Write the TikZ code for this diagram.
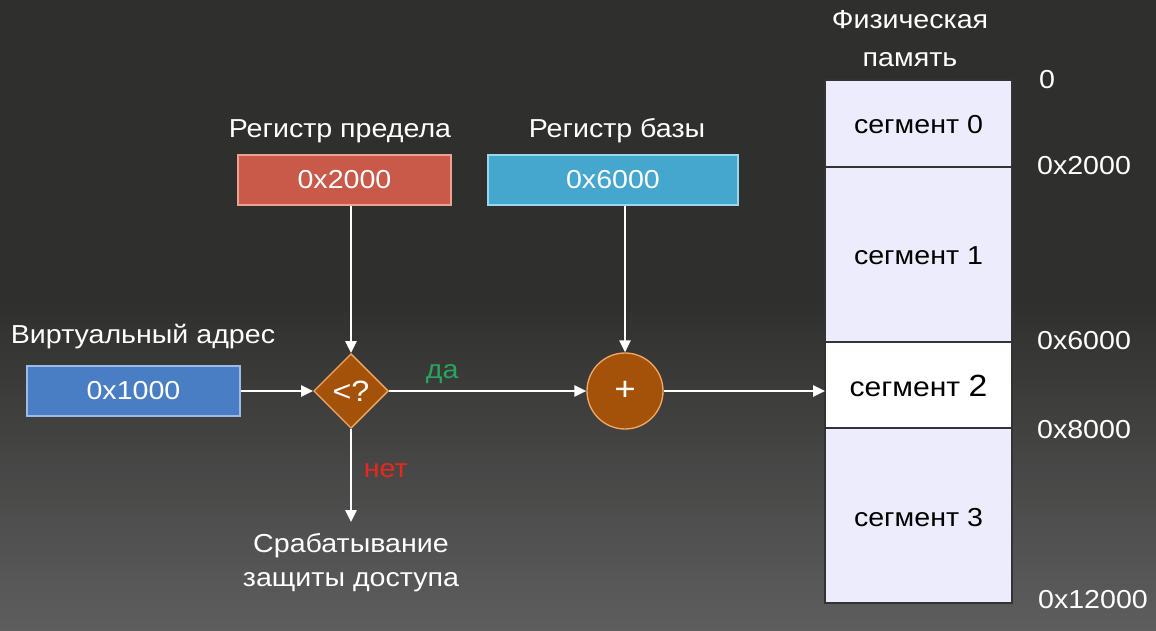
\documentclass[tikz,border=0pt]{standalone}
\usepackage{fontspec}
\setmainfont{Liberation Sans}[FakeStretch=1.1]
\usetikzlibrary{arrows.meta,shapes.geometric}
\definecolor{bgtop}{HTML}{2F2F2E}
\definecolor{bgbot}{HTML}{5E5E5E}
\definecolor{vblue}{HTML}{4A7EC4}
\definecolor{vblueb}{HTML}{9DBBE3}
\definecolor{lred}{HTML}{C95A4A}
\definecolor{lredb}{HTML}{EDA195}
\definecolor{bcyan}{HTML}{45A6CE}
\definecolor{bcyanb}{HTML}{9AD6EE}
\definecolor{opfill}{HTML}{A4520A}
\definecolor{opedge}{HTML}{F2A860}
\definecolor{memfill}{HTML}{ECECFC}
\definecolor{memedge}{HTML}{333333}
\definecolor{yesgreen}{HTML}{27A55E}
\definecolor{nored}{HTML}{E8281E}
\begin{document}
\begin{tikzpicture}[x=0.75pt,y=-0.75pt,
  wtxt/.style={text=white,font=\fontsize{19.5}{23}\selectfont,inner sep=0pt},
  btxt/.style={text=black,font=\fontsize{19.5}{23}\selectfont,inner sep=0pt},
  regbox/.style={draw,line width=0.8pt,minimum height=37.5pt,inner sep=0pt,text=white,font=\fontsize{19.5}{23}\selectfont},
  opnode/.style={fill=opfill,draw=opedge,line width=1pt,inner sep=0pt,text=white},
  memrow/.style={draw=memedge,fill=memfill,line width=1pt},
  conn/.style={draw=white,line width=1.4pt,-{Triangle[length=9pt,width=8.5pt]}}
]
\useasboundingbox (0,0) rectangle (1156,631);
\fill[bgtop] (0,0) rectangle (1156,300);
\shade[top color=bgtop,bottom color=bgbot] (0,299) rectangle (1156,631);

% virtual address
\node[wtxt] (vlabel) at (143,337) {Виртуальный адрес};
\node[regbox,fill=vblue,draw=vblueb,minimum width=159.75pt] (vbox) at (133.5,391) {0x1000};

% limit register
\node[wtxt] (llabel) at (340,131) {Регистр предела};
\node[regbox,fill=lred,draw=lredb,minimum width=159.75pt] (lbox) at (344.5,180) {0x2000};

% base register
\node[wtxt] (blabel) at (617,131) {Регистр базы};
\node[regbox,fill=bcyan,draw=bcyanb,minimum width=187.5pt] (bbox) at (613,180) {0x6000};

% comparator
\node[opnode,diamond,minimum width=56pt,minimum height=56pt,font=\fontsize{22}{26}\selectfont] (cmp) at (351,391) {<?};
% adder
\node[opnode,circle,minimum size=57pt,font=\fontsize{25}{28}\selectfont] (add) at (625,391) {+};

% memory
\fill[memfill] (825,80) rectangle (1012,603);
\fill[white] (825,342) rectangle (1012,428);
\draw[memedge,line width=1pt] (825,80) rectangle (1012,603);
\draw[memedge,line width=1pt] (825,167) -- (1012,167);
\draw[memedge,line width=1pt] (825,342) -- (1012,342);
\draw[memedge,line width=1pt] (825,428) -- (1012,428);
\node[btxt] (s0) at (918.5,125) {сегмент 0};
\node[btxt] (s1) at (918.5,256) {сегмент 1};
\node[btxt,font=\fontsize{20.5}{24}\selectfont] (s2) at (918.5,386) {сегмент {\fontsize{23}{26}\selectfont 2}};
\node[btxt] (s3) at (918.5,518) {сегмент 3};
\coordinate (memin) at (825,391);

\node[wtxt,align=center,font=\fontsize{19.5}{28.5}\selectfont] (mlabel) at (910,39) {Физическая\\память};
\node[wtxt] (a0) at (1047,80) {0};
\node[wtxt] (a1) at (1084,166) {0x2000};
\node[wtxt] (a2) at (1084,341) {0x6000};
\node[wtxt] (a3) at (1084,430) {0x8000};
\node[wtxt] (a4) at (1093,600) {0x12000};

% fault
\coordinate (faultend) at (351,522);
\node[wtxt,align=center,font=\fontsize{19.5}{25.5}\selectfont] (fault) at (351,563) {Срабатывание\\защиты доступа};

% connectors
\draw[conn] (vbox.east) -- (cmp.west);
\draw[conn] (cmp.north |- lbox.south) -- (cmp.north);
\draw[conn] (add.north |- bbox.south) -- (add.north);
\draw[conn] (cmp.east) -- node[pos=0.27,above=5pt,text=yesgreen,font=\fontsize{19.5}{23}\selectfont,inner sep=0pt] (yes) {да} (add.west);
\draw[conn] (add.east) -- (memin);
\draw[conn] (cmp.south) -- node[pos=0.45,right=9pt,text=nored,font=\fontsize{19.5}{23}\selectfont,inner sep=0pt] (no) {нет} (faultend);
\end{tikzpicture}
\end{document}
